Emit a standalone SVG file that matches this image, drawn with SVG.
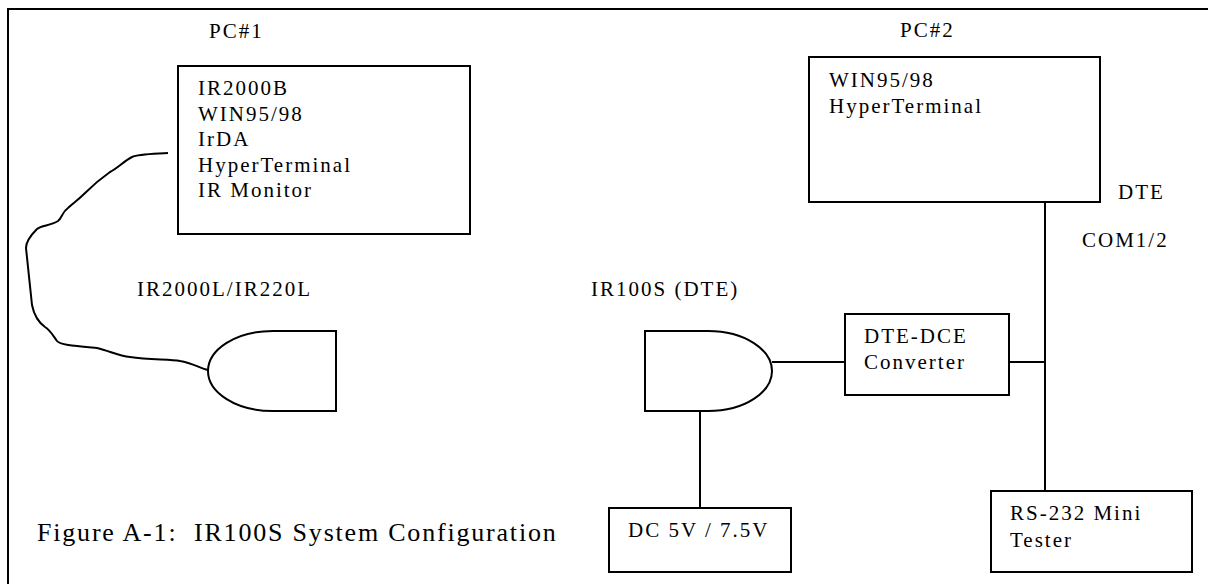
<svg xmlns="http://www.w3.org/2000/svg" width="1208" height="584" viewBox="0 0 1208 584">
<style>
  .ln{fill:none;stroke:#000;stroke-width:2}
  .bx{fill:#fff;stroke:#000;stroke-width:2}
  text{font-family:"Liberation Serif","Times New Roman",serif;font-size:21px;letter-spacing:2px;fill:#000}
  .cap{font-size:26px;letter-spacing:1.8px;white-space:pre}
</style>
<rect x="0" y="0" width="1208" height="584" fill="#fff"/>
<path class="ln" d="M8,584 L8,9 L1208,9"/>
<g id="connectors">
  <path class="ln" stroke-linejoin="round" d="M168,153 C150,154 138,154 132,157 C124,161 118,168 110,172 C100,179 92,186 84,194 C78,200 72,204 68,208 C62,212 62,218 58,221 C50,226 42,225 37,229 C30,236 26,242 26,248 L32,305 C34,315 38,322 45,327 C50,330 52,334 57,341 C60,345 75,346 97,348 C110,351 118,356 130,357 C150,360 170,359 180,361 C192,363 200,368 208,370"/>
  <line class="ln" x1="772" y1="362" x2="845" y2="362"/>
  <line class="ln" x1="1009" y1="362" x2="1045" y2="362"/>
  <line class="ln" x1="1045" y1="202" x2="1045" y2="491"/>
  <line class="ln" x1="700" y1="411" x2="700" y2="508"/>
</g>
<g id="pc1">
  <text x="209" y="38">PC#1</text>
  <rect class="bx" x="178" y="66" width="292" height="168"/>
  <text x="198" y="95">IR2000B</text>
  <text x="198" y="121">WIN95/98</text>
  <text x="198" y="146">IrDA</text>
  <text x="198" y="172">HyperTerminal</text>
  <text x="198" y="197">IR Monitor</text>
</g>
<g id="ir2000l">
  <text x="137" y="296">IR2000L/IR220L</text>
  <path class="bx" d="M336,331 L273,331 C235,331 208,350 208,371 C208,392 235,411 273,411 L336,411 Z"/>
</g>
<g id="pc2">
  <text x="900" y="37">PC#2</text>
  <rect class="bx" x="809" y="57" width="291" height="145"/>
  <text x="829" y="87">WIN95/98</text>
  <text x="829" y="113">HyperTerminal</text>
  <text x="1118" y="199">DTE</text>
  <text x="1082" y="247">COM1/2</text>
</g>
<g id="ir100s">
  <text x="591" y="296">IR100S (DTE)</text>
  <path class="bx" d="M645,331 L708,331 C745,331 772,350 772,371 C772,392 745,411 708,411 L645,411 Z"/>
</g>
<g id="converter">
  <rect class="bx" x="845" y="314" width="164" height="81"/>
  <text x="864" y="343">DTE-DCE</text>
  <text x="864" y="369">Converter</text>
</g>
<g id="dc">
  <rect class="bx" x="609" y="508" width="182" height="64"/>
  <text x="628" y="537">DC 5V / 7.5V</text>
</g>
<g id="tester">
  <rect class="bx" x="991" y="491" width="201" height="81"/>
  <text x="1010" y="520">RS-232 Mini</text>
  <text x="1010" y="547">Tester</text>
</g>
<g id="caption">
  <text class="cap" x="37" y="541" xml:space="preserve">Figure A-1:  IR100S System Configuration</text>
</g>
</svg>
